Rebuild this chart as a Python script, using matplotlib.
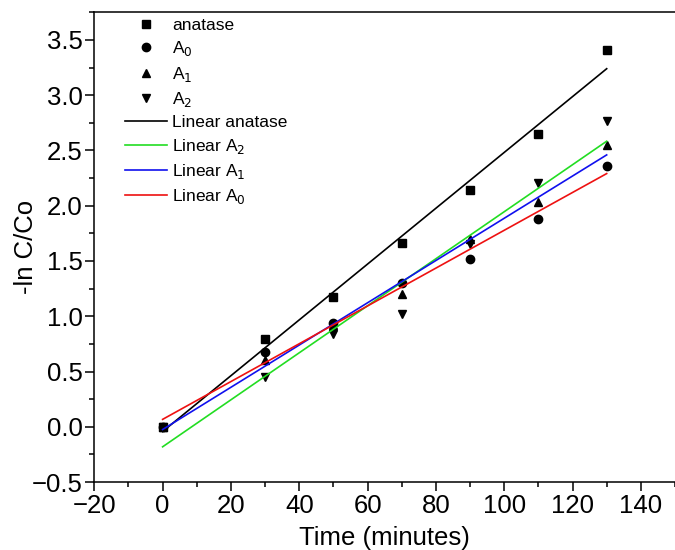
import numpy as np
import matplotlib
matplotlib.use("Agg")
import matplotlib.pyplot as plt
from matplotlib.ticker import MultipleLocator, FuncFormatter

plt.rcParams['font.family'] = ['Liberation Sans', 'DejaVu Sans']

time = np.array([0, 30, 50, 70, 90, 110, 130])
anatase = np.array([0.0, 0.79, 1.17, 1.66, 2.14, 2.65, 3.41])
a0 = np.array([0.0, 0.68, 0.94, 1.30, 1.52, 1.88, 2.36])
a1 = np.array([0.0, 0.60, 0.92, 1.20, 1.70, 2.03, 2.55])
a2 = np.array([0.0, 0.45, 0.84, 1.02, 1.65, 2.21, 2.77])

fig = plt.figure(figsize=(6.75, 5.5), dpi=100)
ax = fig.add_axes([0.1397, 0.1236, 0.8603, 0.854])

ms = 6
ax.plot(time, anatase, 's', color='black', ms=ms, ls='none', label='anatase')
ax.plot(time, a0, 'o', color='black', ms=ms, ls='none', label='A$_0$')
ax.plot(time, a1, '^', color='black', ms=ms, ls='none', label='A$_1$')
ax.plot(time, a2, 'v', color='black', ms=ms, ls='none', label='A$_2$')

# linear fits
fits = [(anatase, 'black', 'Linear anatase'),
        (a2, '#22dd22', 'Linear A$_2$'),
        (a1, '#1010ee', 'Linear A$_1$'),
        (a0, '#ee1111', 'Linear A$_0$')]
xx = np.array([time[0], time[-1]])
for y, c, lab in fits:
    k, b = np.polyfit(time, y, 1)
    ax.plot(xx, k * xx + b, color=c, lw=1.2, label=lab)

ax.set_xlim(-20, 150)
ax.set_ylim(-0.5, 3.75)
ax.xaxis.set_major_locator(MultipleLocator(20))
ax.xaxis.set_minor_locator(MultipleLocator(10))
ax.yaxis.set_major_locator(MultipleLocator(0.5))
ax.yaxis.set_minor_locator(MultipleLocator(0.25))
ax.yaxis.set_major_formatter(FuncFormatter(lambda v, p: f'{v:.1f}'.replace('-', '\u2212')))
ax.spines['right'].set_visible(False)
for s in ax.spines.values():
    s.set_linewidth(1.1)
ax.tick_params(which='major', direction='out', length=6.5, width=1.1, labelsize=18.5, pad=2)
ax.tick_params(which='minor', direction='out', length=3.5, width=1.1)
ax.tick_params(top=False, right=False)

ax.set_xlabel('Time (minutes)', fontsize=18.5, labelpad=6)
ax.set_ylabel('-ln C/Co', fontsize=18.5)
ax.yaxis.set_label_coords(-0.097, 0.5)

ax.legend(loc='upper left', bbox_to_anchor=(0.035, 1.01), frameon=False,
          fontsize=12.5, handlelength=2.4, handletextpad=0.3,
          labelspacing=0.36, borderaxespad=0.2)

fig.savefig('out.png', dpi=100)
